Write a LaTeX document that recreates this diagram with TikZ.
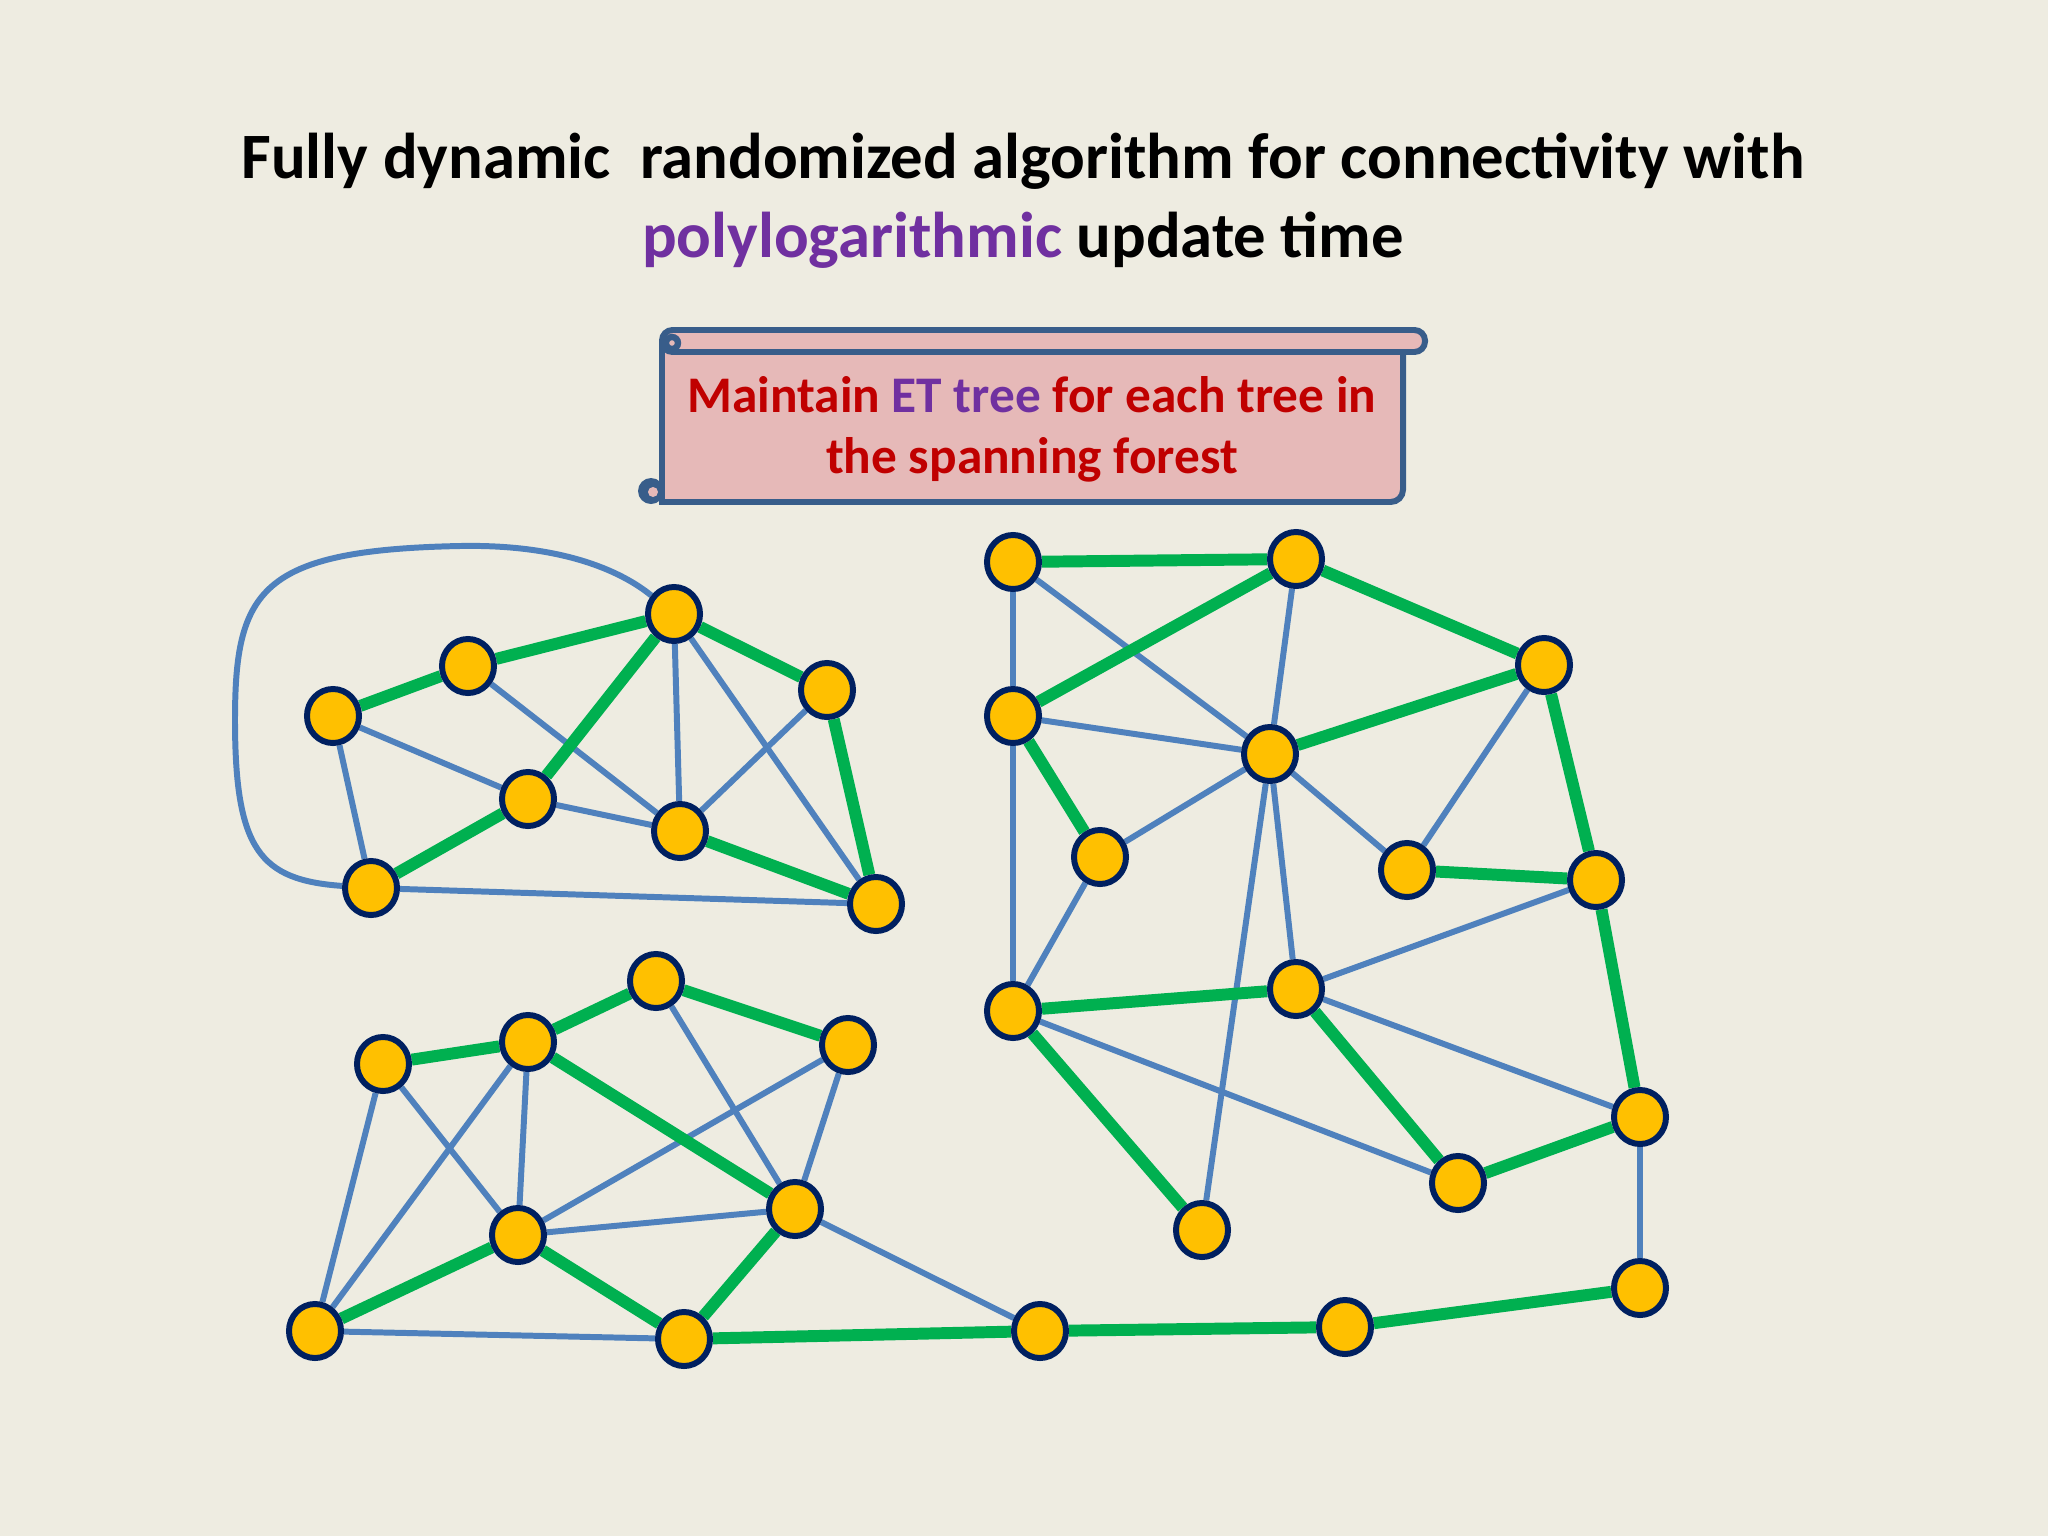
\documentclass[tikz,border=0pt]{standalone}
\usepackage{fontspec}
\setmainfont{Carlito}
\definecolor{SlideBg}{RGB}{238,236,225}
\definecolor{NodeGold}{RGB}{255,192,0}
\definecolor{NodeNavy}{RGB}{0,32,96}
\definecolor{TreeGreen}{RGB}{0,176,80}
\definecolor{EdgeBlue}{RGB}{79,129,189}
\definecolor{ScrollPink}{RGB}{230,185,184}
\definecolor{ScrollBlue}{RGB}{56,93,138}
\definecolor{TitlePurple}{RGB}{112,48,160}
\definecolor{AlertRed}{RGB}{192,0,0}
\usetikzlibrary{positioning,shapes,graphs,backgrounds}
\tikzset{mynodes/.style={ellipse,draw=NodeNavy,fill=NodeGold,line width=1.7pt,minimum width=0.52cm,minimum height=0.54cm,inner sep=0pt}}
\tikzset{treeedges/.style={TreeGreen,line width=3.4pt}}
\tikzset{otheredges/.style={EdgeBlue,line width=1.7pt}}
\tikzset{scrollline/.style={draw=ScrollBlue,line width=1.7pt,fill=ScrollPink}}

\begin{document}
\begin{tikzpicture}[x=0.01cm,y=-0.01cm]
    \useasboundingbox (0,0) rectangle (2048,1536);
    % title
    \node[align=center,font=\bfseries\fontsize{18.4}{22.4}\selectfont] (title) at (1023,201)
        {Fully dynamic\ \ randomized algorithm for connectivity with\\
         \textcolor{TitlePurple}{polylogarithmic} update time};
    % scroll
    \filldraw[scrollline] (662,342) -- (662,502) {[rounded corners=3.5pt] -- (1403,502) -- (1403,342)} -- cycle;
    \fill[ScrollBlue] (651,491) circle (13);
    \fill[ScrollPink] (653,492) circle (5);
    \filldraw[scrollline,rounded corners=3pt] (662,330) rectangle (1425,352);
    \draw[ScrollBlue,line width=1.8pt] (672,343) circle (6);
    \node[align=center,text=AlertRed,font=\bfseries\fontsize{14.6}{17.4}\selectfont] (note) at (1032,429)
        {Maintain \textcolor{TitlePurple}{ET tree} for each tree in\\ the spanning forest};
    % first tree
    \node[mynodes] (a1) at (333,716) {};
    \node[mynodes] (a2) at (468,666) {};
    \node[mynodes] (a3) at (674,614) {};
    \node[mynodes] (a4) at (827,690) {};
    \node[mynodes] (a5) at (528,799) {};
    \node[mynodes] (a6) at (680,831) {};
    \node[mynodes] (a7) at (371,888) {};
    \node[mynodes] (a8) at (876,904) {};
    % second tree
    \node[mynodes] (b1) at (1013,562) {};
    \node[mynodes] (b2) at (1296,559) {};
    \node[mynodes] (b3) at (1544,665) {};
    \node[mynodes] (b4) at (1013,716) {};
    \node[mynodes] (b5) at (1270,754) {};
    \node[mynodes] (b6) at (1100,857) {};
    \node[mynodes] (b7) at (1407,870) {};
    \node[mynodes] (b8) at (1596,880) {};
    \node[mynodes] (b9) at (1013,1011) {};
    \node[mynodes] (b10) at (1296,989) {};
    \node[mynodes] (b11) at (1640,1117) {};
    \node[mynodes] (b12) at (1458,1183) {};
    \node[mynodes] (b13) at (1202,1230) {};
    \node[mynodes] (b14) at (1640,1288) {};
    \node[mynodes] (b15) at (1345,1327) {};
    \node[mynodes] (b16) at (1040,1331) {};
    \node[mynodes] (c1) at (383,1064) {};
    \node[mynodes] (c2) at (528,1042) {};
    \node[mynodes] (c3) at (656,981) {};
    \node[mynodes] (c4) at (848,1045) {};
    \node[mynodes] (c5) at (518,1235) {};
    \node[mynodes] (c6) at (795,1209) {};
    \node[mynodes] (c7) at (315,1331) {};
    \node[mynodes] (c8) at (684,1339) {};
    \begin{scope}[on background layer]
        \fill[SlideBg] (0,0) rectangle (2048,1536);
        \graph[use existing nodes, edges={otheredges}]{
            a1 -- {a5, a7}; a2 -- a6; a3 -- {a6, a8}; a4 -- a6; a5 -- a6; a7 -- a8;
            b1 -- {b4, b5}; b2 -- b5; b4 -- {b5, b9}; b5 -- {b6, b7, b10, b13};
            b3 -- b7; b6 -- b9; b8 -- b10; b9 -- b12; b10 -- b11; b11 -- b14; c6 -- b16;
            c1 -- {c7, c5}; c2 -- {c7, c5}; c3 -- c6; c4 -- {c5, c6}; c5 -- c6; c7 -- c8;
        };
        \draw[otheredges] (a7) .. controls (260,880) and (235,850) .. (235,720)
            .. controls (235,590) and (260,550) .. (460,546)
            .. controls (560,544) and (620,570) .. (a3);
        \graph[use existing nodes, edges={treeedges}]{
            a1 -- a2 -- a3 -- a5 -- a7; a3 -- a4 -- a8 -- a6;
            b1 -- b2 -- b3 -- b5; b2 -- b4 -- b6; b3 -- b8 -- b7;
            b8 -- b11 -- b12 -- b10 -- b9 -- b13;
            b14 -- b15 -- b16 -- c8 -- c6 -- c2 -- c1; c8 -- c5 -- c7; c2 -- c3 -- c4;
        };
    \end{scope}
\end{tikzpicture}
\end{document}
